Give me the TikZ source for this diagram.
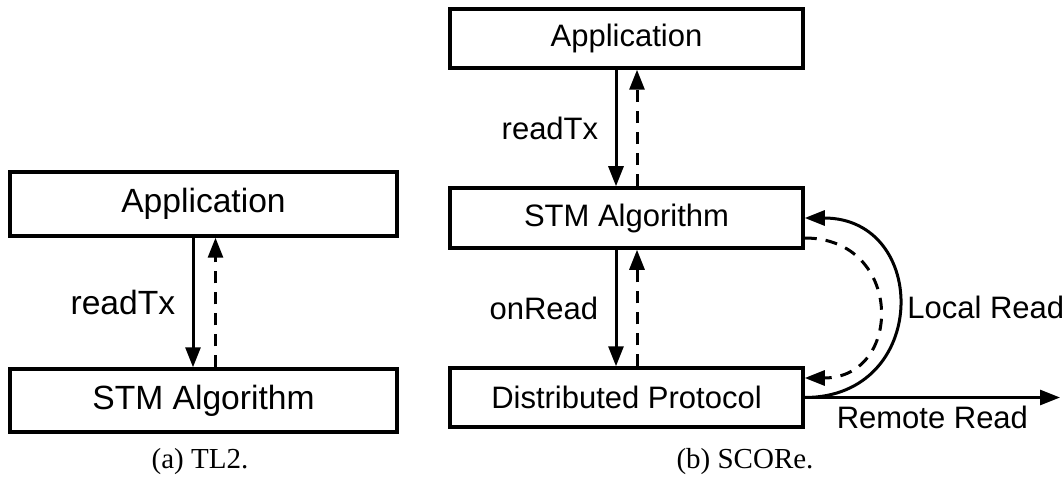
\documentclass[tikz,border=0pt]{standalone}
\usepackage{fontspec}
\setmainfont{Liberation Sans}
\newfontfamily\capfont{Liberation Serif}
\usepackage{tikz}
\usetikzlibrary{positioning, arrows.meta, calc}
\tikzset{
  boxA/.style={draw, rectangle, line width=3.5pt, minimum width=387pt, minimum height=64pt, font=\fontsize{33.6}{40}\selectfont},
  boxB/.style={draw, rectangle, line width=3.5pt, minimum width=353pt, minimum height=60pt, font=\fontsize{31}{37}\selectfont},
  req/.style={line width=3pt, -{Triangle[length=20pt, width=15pt]}},
  rsp/.style={req, dash pattern=on 12pt off 9pt},
  lblA/.style={font=\fontsize{33.6}{40}\selectfont},
  lblB/.style={font=\fontsize{31}{37}\selectfont},
  captxt/.style={font=\capfont\fontsize{29}{34}\selectfont}
}

\begin{document}
\begin{tikzpicture}[x=1pt, y=-1pt]
  \useasboundingbox (0,0) rectangle (1063,481);

  % (a) TL2
  \node[boxA] (appA) at (203.5, 204) {Application};
  \node[boxA, minimum height=63pt] (stmA) at (203.5, 400.5) {STM Algorithm};
  \draw[req] ([xshift=-10.5pt]appA.south) -- ([xshift=-10.5pt]stmA.north) node[midway, left=13pt, lblA] {readTx};
  \draw[rsp] ([xshift=12pt]stmA.north) -- ([xshift=12pt]appA.south);
  \node[captxt] (capA) at (200, 462) {(a) TL2.};

  % (b) SCORe
  \node[boxB, minimum height=59pt] (appB) at (626.5, 38.5) {Application};
  \node[boxB] (stmB) at (626.5, 218) {STM Algorithm};
  \node[boxB, minimum height=59pt] (dist) at (626.5, 397.5) {Distributed Protocol};
  \coordinate (remote) at (1060, 397.5);

  \draw[req] ([xshift=-10.5pt]appB.south) -- ([xshift=-10.5pt]stmB.north) node[midway, left=13pt, lblB] {readTx};
  \draw[rsp] ([xshift=10.5pt]stmB.north) -- ([xshift=10.5pt]appB.south);
  \draw[req] ([xshift=-10.5pt]stmB.south) -- ([xshift=-10.5pt]dist.north) node[midway, left=13pt, lblB] {onRead};
  \draw[rsp] ([xshift=10.5pt]dist.north) -- ([xshift=10.5pt]stmB.south);

  % local and remote reads
  \draw[req] (dist.east) .. controls +(125,0) and +(125,0) .. (stmB.east) node[pos=0.5, right=4pt, lblB] {Local Read};
  \draw[rsp] ([yshift=-20pt]stmB.east) .. controls +(99,0) and +(99,0) .. ([yshift=19.5pt]dist.east);
  \draw[req] (dist.east) -- (remote) node[midway, below=4pt, lblB] {Remote Read};
  \node[captxt] (capB) at (745, 462) {(b) SCORe.};
\end{tikzpicture}
\end{document}
